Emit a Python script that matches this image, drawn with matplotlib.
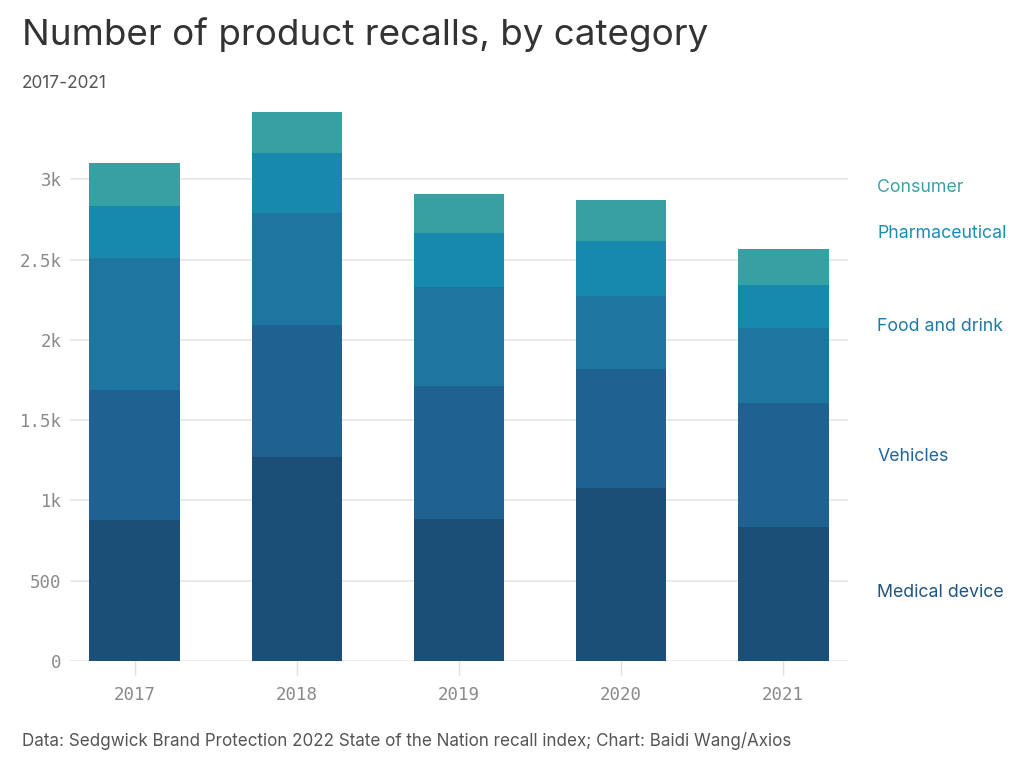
import matplotlib
matplotlib.use("Agg")
import matplotlib.pyplot as plt
import numpy as np

years = ["2017", "2018", "2019", "2020", "2021"]
categories = ["Medical device", "Vehicles", "Food and drink", "Pharmaceutical", "Consumer"]
medical = [878, 1270, 884, 1077, 834]
vehicles = [809, 821, 828, 740, 772]
food = [821, 697, 616, 455, 467]
pharma = [324, 374, 336, 342, 267]
consumer = [267, 255, 243, 255, 224]
series = [medical, vehicles, food, pharma, consumer]
colors = ["#1b4f77", "#1f6191", "#1c76a0", "#1789ad", "#36a0a2"]
label_colors = ["#1f5580", "#22659a", "#1f7aa6", "#1b8db3", "#3aa3a5"]
label_y = [429, 1276, 2085, 2664, 2950]
yticks = [0, 500, 1000, 1500, 2000, 2500, 3000]
ytick_labels = ["0", "500", "1k", "1.5k", "2k", "2.5k", "3k"]

fig = plt.figure(figsize=(10.24, 7.67), dpi=100)
ax = fig.add_axes([70/1024, 106/767, 778/1024, 554/767])

x = np.arange(len(years))
bottom = np.zeros(len(years))
for vals, c in zip(series, colors):
    ax.bar(x, vals, bottom=bottom, width=0.56, color=c, zorder=3)
    bottom += np.array(vals)

ax.set_xlim(-0.40, 4.40)
ax.set_ylim(0, 3450)
ax.set_yticks(yticks)
ax.set_yticklabels(ytick_labels)
ax.set_xticks(x)
ax.set_xticklabels(years)
ax.grid(axis="y", color="#e6e6e6", linewidth=1.2, zorder=0)
for s in ax.spines.values():
    s.set_visible(False)
ax.tick_params(axis="y", length=0, pad=6, labelsize=12.5, labelcolor="#8a8a8a")
ax.tick_params(axis="x", length=10, width=1, color="#e0e0e0", pad=8, labelsize=12.5, labelcolor="#8a8a8a")
for lab in ax.get_xticklabels() + ax.get_yticklabels():
    lab.set_family("DejaVu Sans Mono")

for name, yy, c in zip(categories, label_y, label_colors):
    ax.text(4.58, yy, name, color=c, fontsize=12.8, family="Inter", va="center", ha="left",
            clip_on=False)

fig.text(22/1024, 1 - 35/767, "Number of product recalls, by category", fontsize=26.5,
         family="Inter", color="#333333", va="center", ha="left")
fig.text(22/1024, 1 - 84/767, "2017-2021", fontsize=12.4, family="Inter", color="#555555",
         va="center", ha="left")
fig.text(22/1024, 1 - 741/767,
         "Data: Sedgwick Brand Protection 2022 State of the Nation recall index; Chart: Baidi Wang/Axios",
         fontsize=12.25, family="Inter", color="#555555", va="center", ha="left")

fig.savefig("out.png", dpi=100)
